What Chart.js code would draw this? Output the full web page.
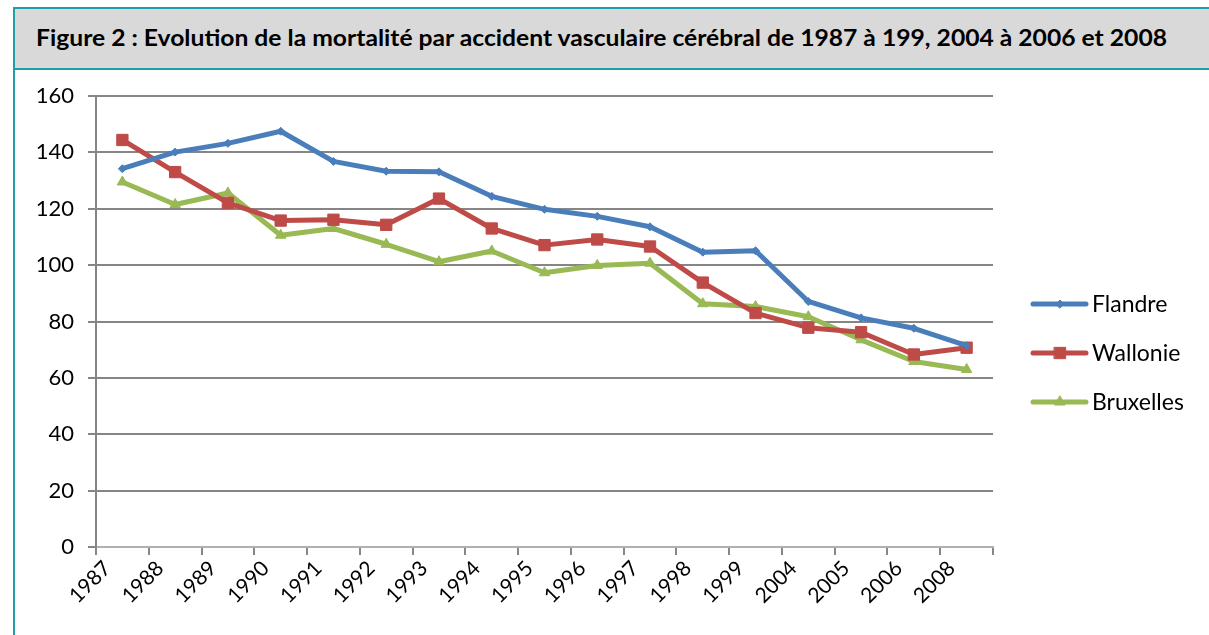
<!DOCTYPE html>
<html>
<head>
<meta charset="utf-8">
<script src="https://cdn.jsdelivr.net/npm/chart.js@4"></script>
<style>
  body { margin: 0; background: #fff; width: 1209px; height: 635px; overflow: hidden; position: relative; }
  #frame { position: absolute; left: 13px; top: 7px; width: 1300px; height: 700px;
           border-left: 2px solid #1f9ea6; border-top: 2px solid #1f9ea6; z-index: 2; pointer-events: none; }
  #title { height: 59px; background: #d9d9d9; border-bottom: 2px solid #1f9ea6; position: relative; }
  #title span { position: absolute; left: 21px; top: 14px; white-space: nowrap; transform-origin: 0 0;
                font: bold 23px "Lato", sans-serif; color: #000; }
  #myChart { position: absolute; left: 0; top: 0; z-index: 1; }
</style>
</head>
<body>
<div id="frame"><div id="title"><span id="titleText">Figure 2 : Evolution de la mortalité par accident vasculaire cérébral de 1987 à 199, 2004 à 2006 et 2008</span></div></div>
<canvas id="myChart" width="1209" height="635"></canvas>
<script>
const years = ["1987", "1988", "1989", "1990", "1991", "1992", "1993", "1994", "1995", "1996", "1997", "1998", "1999", "2004", "2005", "2006", "2008"];
const flandre = [134.2, 140.1, 143.2, 147.5, 136.8, 133.3, 133.1, 124.4, 119.8, 117.3, 113.6, 104.6, 105.1, 87.1, 81.3, 77.6, 71.4];
const wallonie = [144.4, 133.0, 122.1, 115.8, 116.1, 114.3, 123.6, 113.0, 107.1, 109.1, 106.6, 93.8, 83.0, 77.8, 76.2, 68.3, 70.7];
const bruxelles = [129.5, 121.5, 125.6, 110.6, 113.0, 107.4, 101.2, 105.0, 97.3, 99.9, 100.7, 86.3, 85.3, 81.7, 73.5, 65.8, 63.0];
const yTicks = [0, 20, 40, 60, 80, 100, 120, 140, 160];

// squeeze the title into the width of the original
const t = document.getElementById("titleText");
t.style.transform = "scaleX(" + (1131 / t.getBoundingClientRect().width) + ")";

const font = "Lato";

const legendPlugin = {
  id: "sideLegend",
  afterDraw(chart) {
    const c = chart.ctx;
    const area = chart.chartArea;
    c.save();
    chart.data.datasets.forEach((ds, i) => {
      const y = 304 + i * 49;
      const x0 = area.right + 40;
      c.strokeStyle = ds.borderColor;
      c.lineWidth = 5;
      c.lineCap = "round";
      c.beginPath();
      c.moveTo(x0, y);
      c.lineTo(x0 + 53, y);
      c.stroke();
      c.fillStyle = ds.borderColor;
      c.lineWidth = 1;
      Chart.helpers.drawPoint(c, { pointStyle: ds.pointStyle, radius: ds.pointRadius, borderWidth: 1, rotation: 0 }, x0 + 27, y);
      c.fillStyle = "#000";
      c.font = "23px " + font;
      c.textBaseline = "middle";
      c.fillText(ds.label, x0 + 59, y + 1);
    });
    c.restore();
  }
};

const ctx = document.getElementById("myChart");
const chart = new Chart(ctx, {
  type: "line",
  data: {
    labels: years,
    datasets: [
      { label: "Flandre", data: flandre, borderColor: "#4a7ebb", backgroundColor: "#4a7ebb",
        pointStyle: "rectRot", pointRadius: 4 },
      { label: "Wallonie", data: wallonie, borderColor: "#be4b48", backgroundColor: "#be4b48",
        pointStyle: "rect", pointRadius: 8 },
      { label: "Bruxelles", data: bruxelles, borderColor: "#98b954", backgroundColor: "#98b954",
        pointStyle: "triangle", pointRadius: 6 }
    ]
  },
  options: {
    responsive: false,
    animation: false,
    events: [],
    elements: {
      line: { borderWidth: 5, tension: 0, borderJoinStyle: "round", borderCapStyle: "round" },
      point: { borderWidth: 1 }
    },
    layout: { padding: { top: 96, right: 216, left: 0, bottom: 0 } },
    plugins: { legend: { display: false }, title: { display: false }, tooltip: { enabled: false } },
    scales: {
      x: {
        offset: true,
        afterFit: (s) => { s.height = 88; },
        grid: { offset: true, drawOnChartArea: false, drawTicks: true, tickLength: 8, color: "#868686", lineWidth: 2 },
        border: { color: "#b0b0b0", width: 2 },
        ticks: { minRotation: 45, maxRotation: 45, autoSkip: false, padding: 1, labelOffset: -15,
                 color: "#000", font: { family: font, size: 21 } }
      },
      y: {
        min: 0, max: 160,
        afterFit: (s) => { s.width = 96; },
        afterBuildTicks: (s) => { s.ticks = yTicks.map(v => ({ value: v })); },
        grid: { color: "#868686", lineWidth: 2, tickLength: 8 },
        border: { color: "#868686", width: 2 },
        ticks: { padding: 14, color: "#000", font: { family: font, size: 22 } }
      }
    }
  },
  plugins: [legendPlugin]
});
</script>
</body>
</html>
